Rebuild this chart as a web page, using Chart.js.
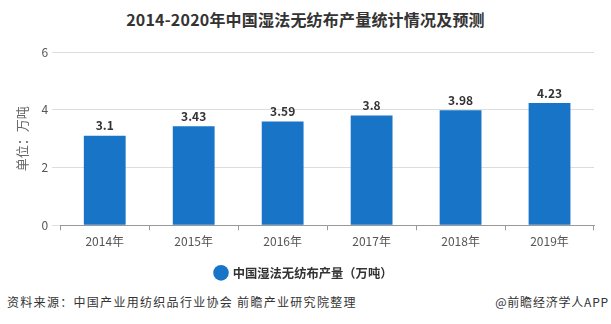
<!DOCTYPE html>
<html>
<head>
<meta charset="utf-8">
<script src="https://cdn.jsdelivr.net/npm/chart.js@4/dist/chart.umd.min.js"></script>
<style>
  html, body { margin: 0; padding: 0; background: #fff; }
  body { width: 611px; height: 324px; position: relative; overflow: hidden;
         font-family: "Microsoft YaHei", "Noto Sans CJK SC", sans-serif; }
  #title { position: absolute; left: 0; width: 611px; top: 7px; text-align: center;
           font-size: 16px; font-weight: bold; color: #333; letter-spacing: 0.2px; }
  #wrap { position: absolute; left: 0; top: 0; width: 611px; height: 290px; }
  #src { position: absolute; left: 7px; top: 293px; font-size: 12px; color: #333; letter-spacing: 1.3px; }
  #app { position: absolute; right: 2px; top: 293px; font-size: 12px; color: #333; letter-spacing: 0.8px; }
</style>
</head>
<body>
<div id="title">2014-2020年中国湿法无纺布产量统计情况及预测</div>
<div id="wrap"><canvas id="chart" width="611" height="290"></canvas></div>
<div id="src">资料来源：中国产业用纺织品行业协会 前瞻产业研究院整理</div>
<div id="app">@前瞻经济学人APP</div>
<script>
var years = ['2014年', '2015年', '2016年', '2017年', '2018年', '2019年'];
var output = [3.1, 3.43, 3.59, 3.8, 3.98, 4.23];
var yTicks = [0, 2, 4, 6];

var cjk = '"Microsoft YaHei", "Noto Sans CJK SC", sans-serif';

// value labels above each bar
var barLabels = {
    id: 'barLabels',
    afterDatasetsDraw: function(chart) {
        var ctx = chart.ctx;
        var meta = chart.getDatasetMeta(0);
        ctx.save();
        ctx.font = 'bold 12px ' + cjk;
        ctx.fillStyle = '#333';
        ctx.textAlign = 'center';
        ctx.textBaseline = 'bottom';
        meta.data.forEach(function(bar, i) {
            ctx.fillText(output[i], bar.x, bar.y - 4);
        });
        ctx.restore();
    }
};

let outputChart = new Chart(document.getElementById('chart'), {
    type: 'bar',
    data: {
        labels: years,
        datasets: [
            {
                label: '中国湿法无纺布产量（万吨）',
                backgroundColor: '#1874c6',
                data: output,
                categoryPercentage: 1,
                barPercentage: 0.47
            }
        ]
    },
    options: {
        responsive: false,
        animation: false,
        layout: { padding: { left: 14, right: 17, top: 52, bottom: 1 } },
        plugins: {
            tooltip: { enabled: false },
            legend: {
                position: 'bottom',
                labels: {
                    usePointStyle: true,
                    pointStyle: 'circle',
                    boxWidth: 11,
                    boxHeight: 11,
                    padding: 14,
                    color: '#333',
                    font: { family: cjk, size: 12.3, weight: 'bold' }
                }
            }
        },
        scales: {
            x: {
                grid: { drawOnChartArea: false, drawTicks: true, tickLength: 5, color: '#999' },
                border: { color: '#999' },
                ticks: { color: '#555', padding: 4, maxRotation: 0, font: { family: cjk, size: 12 } }
            },
            y: {
                min: 0,
                max: 6,
                afterBuildTicks: function(axis) {
                    axis.ticks = yTicks.map(function(v) { return { value: v }; });
                },
                grid: { color: '#ddd', tickLength: 8 },
                border: { display: false },
                ticks: { color: '#555', padding: 4, font: { family: cjk, size: 12 } },
                title: {
                    display: true,
                    text: '单位：万吨',
                    color: '#666',
                    padding: { top: 0, bottom: 8 },
                    font: { family: cjk, size: 13 }
                }
            }
        }
    },
    plugins: [barLabels]
});
</script>
</body>
</html>
